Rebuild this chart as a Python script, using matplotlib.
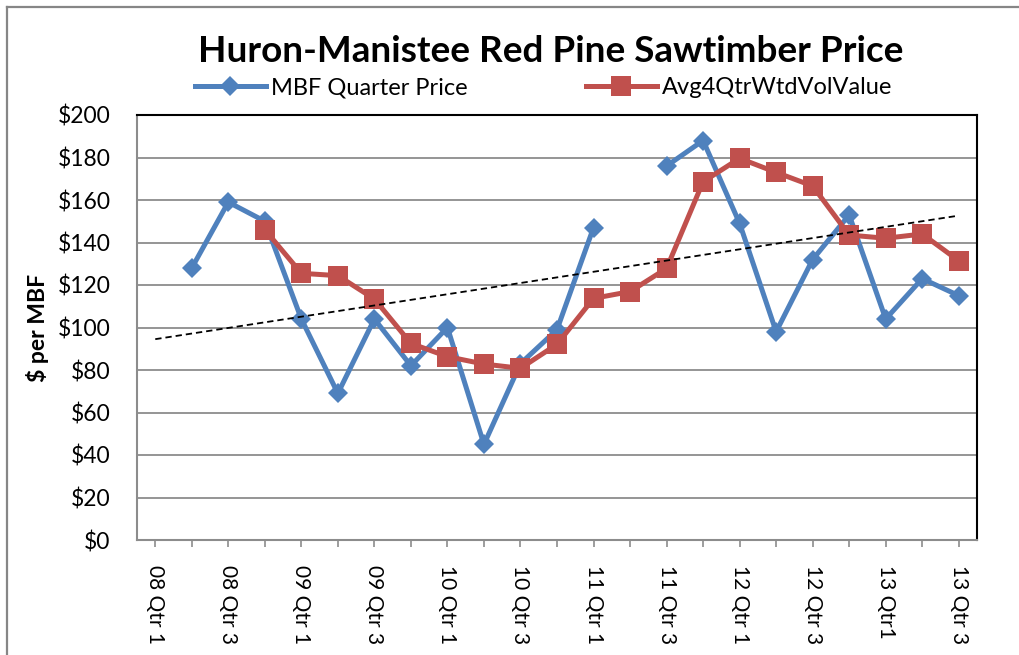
import numpy as np
import matplotlib
matplotlib.use("Agg")
import matplotlib.pyplot as plt
from matplotlib.lines import Line2D

# ---- data ----
quarters = ["08 Qtr 1", "08 Qtr 2", "08 Qtr 3", "08 Qtr 4",
            "09 Qtr 1", "09 Qtr 2", "09 Qtr 3", "09 Qtr 4",
            "10 Qtr 1", "10 Qtr 2", "10 Qtr 3", "10 Qtr 4",
            "11 Qtr 1", "11 Qtr 2", "11 Qtr 3", "11 Qtr 4",
            "12 Qtr 1", "12 Qtr 2", "12 Qtr 3", "12 Qtr 4",
            "13 Qtr1", "13 Qtr 2", "13 Qtr 3"]
mbf_price = [np.nan, 128, 159, 150, 104, 69, 104, 82, 100, 45, 83, 99,
             147, np.nan, 176, 188, 149, 98, 132, 153, 104, 123, 115]
avg4qtr = [np.nan, np.nan, np.nan, 146, 125.5, 124.4, 113.4, 92.5, 86.3, 82.8,
           80.8, 92.1, 113.7, 116.9, 127.8, 168.6, 179.6, 173, 166.6, 143.5,
           142, 144, 131.4]
yticks = [0, 20, 40, 60, 80, 100, 120, 140, 160, 180, 200]

plt.rcParams['font.family'] = ['Lato', 'DejaVu Sans']

fig = plt.figure(figsize=(10.2, 6.55), dpi=100)
ax = fig.add_axes([137/1020, 1-540/655, (977-137)/1020, (540-115)/655])

x = np.arange(len(quarters))
blue = '#4F81BD'
red = '#C0504D'
grid = '#8C8C8C'

ax.plot(x, mbf_price, color=blue, lw=3.6, marker='D', markersize=10.5,
        markeredgewidth=0, zorder=3, label='MBF Quarter Price')
ax.plot(x, avg4qtr, color=red, lw=3.6, marker='s', markersize=14,
        markeredgewidth=0, zorder=4, label='Avg4QtrWtdVolValue')

# linear trendline of the 4-quarter weighted average series
av = np.array(avg4qtr, dtype=float)
m = ~np.isnan(av)
coef = np.polyfit(x[m], av[m], 1)
ax.plot(x, np.polyval(coef, x), color='black', lw=1.3, ls=(0, (3.5, 2.2)), zorder=5)

ax.set_xlim(-0.5, len(quarters) - 0.5)
ax.set_ylim(0, 200)
ax.set_yticks(yticks)
ax.set_yticklabels([f"${v}" for v in yticks], fontsize=16.5)
ax.tick_params(axis='y', length=0, pad=19)
ax.yaxis.grid(True, color=grid, lw=1.3)
ax.set_axisbelow(True)

ax.set_xticks(x)
ax.set_xticklabels([q if i % 2 == 0 else "" for i, q in enumerate(quarters)],
                   rotation=270, fontsize=15, va='top', ha='center')
ax.tick_params(axis='x', length=5, color=grid, width=1.2, pad=13)

for s in ['left', 'bottom']:
    ax.spines[s].set_color(grid)
    ax.spines[s].set_linewidth(1.5)
for s in ['top', 'right']:
    ax.spines[s].set_color('black')
    ax.spines[s].set_linewidth(1.5)

ax.set_ylabel("$ per MBF", fontsize=16.5, fontweight='bold', labelpad=6)

fig.text(551/1020, 1-51/655, "Huron-Manistee Red Pine Sawtimber Price",
         fontsize=26.6, fontweight='bold', ha='center', va='center')

handles, labels = ax.get_legend_handles_labels()
fig.legend(handles, labels, loc='center left', bbox_to_anchor=(195/1020, 1-88/655),
           ncol=2, frameon=False, fontsize=17, handlelength=3.0, handletextpad=0.22,
           columnspacing=5.0, borderpad=0, borderaxespad=0, numpoints=1)

# outer chart border (top and left edge)
fig.add_artist(Line2D([7.5/1020, 7.5/1020], [0, 1-6.5/655], transform=fig.transFigure,
                      color='#868686', lw=1.6))
fig.add_artist(Line2D([7.5/1020, 1], [1-6.5/655, 1-6.5/655], transform=fig.transFigure,
                      color='#868686', lw=1.6))

fig.savefig("out.png", dpi=100)
